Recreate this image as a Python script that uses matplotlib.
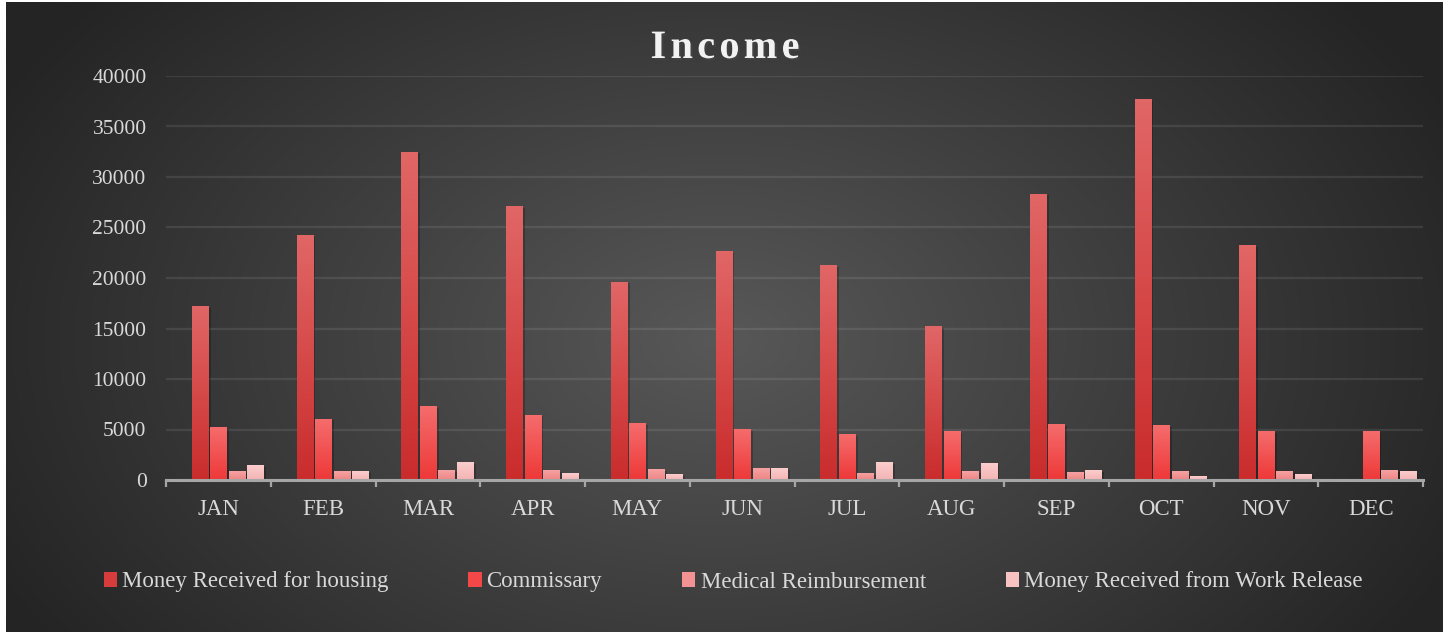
import numpy as np
import matplotlib.pyplot as plt
import matplotlib.patheffects as pe
from matplotlib.patches import Patch
from matplotlib.colors import to_rgb

plt.rcParams['font.family'] = ['Liberation Serif', 'DejaVu Serif']

# data
months = ['JAN', 'FEB', 'MAR', 'APR', 'MAY', 'JUN', 'JUL', 'AUG', 'SEP', 'OCT', 'NOV', 'DEC']
series_names = ['Money Received for housing', 'Commissary',
                'Medical Reimbursement', 'Money Received from Work Release']
housing = [17130, 24240, 32475, 27110, 19600, 22575, 21190, 15165, 28315, 37705, 23250, 0]
commissary = [5230, 6030, 7230, 6430, 5630, 5030, 4530, 4830, 5530, 5430, 4830, 4830]
medical = [830, 830, 930, 930, 1030, 1130, 630, 830, 730, 830, 830, 930]
work_release = [1430, 830, 1730, 630, 530, 1130, 1730, 1630, 930, 330, 530, 830]
y_ticks = list(range(0, 40001, 5000))

# (top colour, bottom colour, legend colour) for each series
palette = [
    ('#e16666', '#ca2c2c', '#d63c3c'),
    ('#f56c6c', '#ee3838', '#f44848'),
    ('#f5a2a2', '#ef8585', '#f39292'),
    ('#fbcdcd', '#f4b4b4', '#f9c2c2'),
]
text_col = '#d9d9d9'
axis_col = '#a6a6a6'

W, H = 1449, 636
fig = plt.figure(figsize=(W / 100, H / 100), dpi=100, facecolor='white')

# radial grey background, lighter in the middle
bg = fig.add_axes([6 / W, 4 / H, 1437 / W, 630 / H], zorder=0)
gx, gy = np.meshgrid(np.linspace(6, 1443, 360), np.linspace(2, 632, 160))
d = np.sqrt(((gx - 720) / 820) ** 2 + ((gy - 340) / 540) ** 2)
shade = (88 - 52 * np.clip(d, 0, 1.0)) / 255
bg.imshow(np.dstack([shade] * 3), aspect='auto', interpolation='bilinear')
bg.axis('off')

ax = fig.add_axes([166 / W, 1 - 480 / H, 1257 / W, 404 / H], zorder=1)
ax.patch.set_alpha(0)

x = np.arange(len(months))
# the source chart keeps an empty first slot in each group of five
n_slots = 5
slot = 0.883 / n_slots
bar_w = 0.153
all_series = [housing, commissary, medical, work_release]

for k, (vals, (c_top, c_bot, c_leg)) in enumerate(zip(all_series, palette)):
    offset = (k + 1 - (n_slots - 1) / 2) * slot
    bars = ax.bar(x + offset, vals, width=bar_w, color=c_leg, zorder=3,
                  path_effects=[pe.SimplePatchShadow(offset=(2, -1), shadow_rgbFace='black', alpha=0.22),
                                pe.Normal()])
    grad = np.linspace(to_rgb(c_top), to_rgb(c_bot), 64)[:, None, :]
    for rect in bars:
        h = rect.get_height()
        if h <= 0:
            continue
        ax.imshow(grad, extent=(rect.get_x(), rect.get_x() + rect.get_width(), 0, h),
                  aspect='auto', interpolation='bilinear', zorder=4)

ax.set_xlim(-0.5, len(months) - 0.5)
ax.set_ylim(0, 40000)
ax.set_yticks(y_ticks)
ax.set_yticklabels([str(v) for v in y_ticks])
ax.set_xticks(x)
ax.set_xticklabels(months)
ax.set_xticks(np.arange(-0.5, len(months), 1), minor=True)

ax.yaxis.grid(True, color='white', alpha=0.09, linewidth=1.6)
ax.set_axisbelow(True)
for s in ['top', 'right', 'left']:
    ax.spines[s].set_visible(False)
ax.spines['bottom'].set_color(axis_col)
ax.spines['bottom'].set_linewidth(2.2)
ax.spines['bottom'].set_zorder(5)

ax.tick_params(axis='y', length=0, pad=14, labelcolor=text_col, labelsize=15.5)
ax.tick_params(axis='x', which='major', length=0, pad=14, labelcolor=text_col, labelsize=16.5)
ax.tick_params(axis='x', which='minor', length=5, width=1.6, color=axis_col, direction='out')

handles = [Patch(facecolor=c[2], edgecolor='none') for c in palette]
fig.legend(handles, series_names, loc='center', bbox_to_anchor=(0.506, 1 - 582 / H),
           ncol=4, frameon=False, fontsize=16.5, handlelength=0.57, handleheight=0.6,
           handletextpad=0.22, columnspacing=3.5, labelcolor=text_col)

# letter-spaced title, placed one glyph at a time
title = 'Income'
title_kw = dict(fontsize=29, fontweight='bold', color='#f2f2f2')
renderer = fig.canvas.get_renderer()

def text_width(s):
    if not s:
        return 0.0
    t = fig.text(0, 0, s, **title_kw)
    w = t.get_window_extent(renderer).width
    t.remove()
    return w

target_w = 149
gap = (target_w - text_width(title)) / (len(title) - 1)
start = 725 - target_w / 2
for i, ch in enumerate(title):
    px = start + text_width(title[:i]) + i * gap
    fig.text(px / W, 1 - 58 / H, ch, ha='left', va='baseline',
             path_effects=[pe.withSimplePatchShadow(offset=(1.5, -1.5), alpha=0.5)], **title_kw)

fig.savefig('out.png', dpi=100, facecolor=fig.get_facecolor())
